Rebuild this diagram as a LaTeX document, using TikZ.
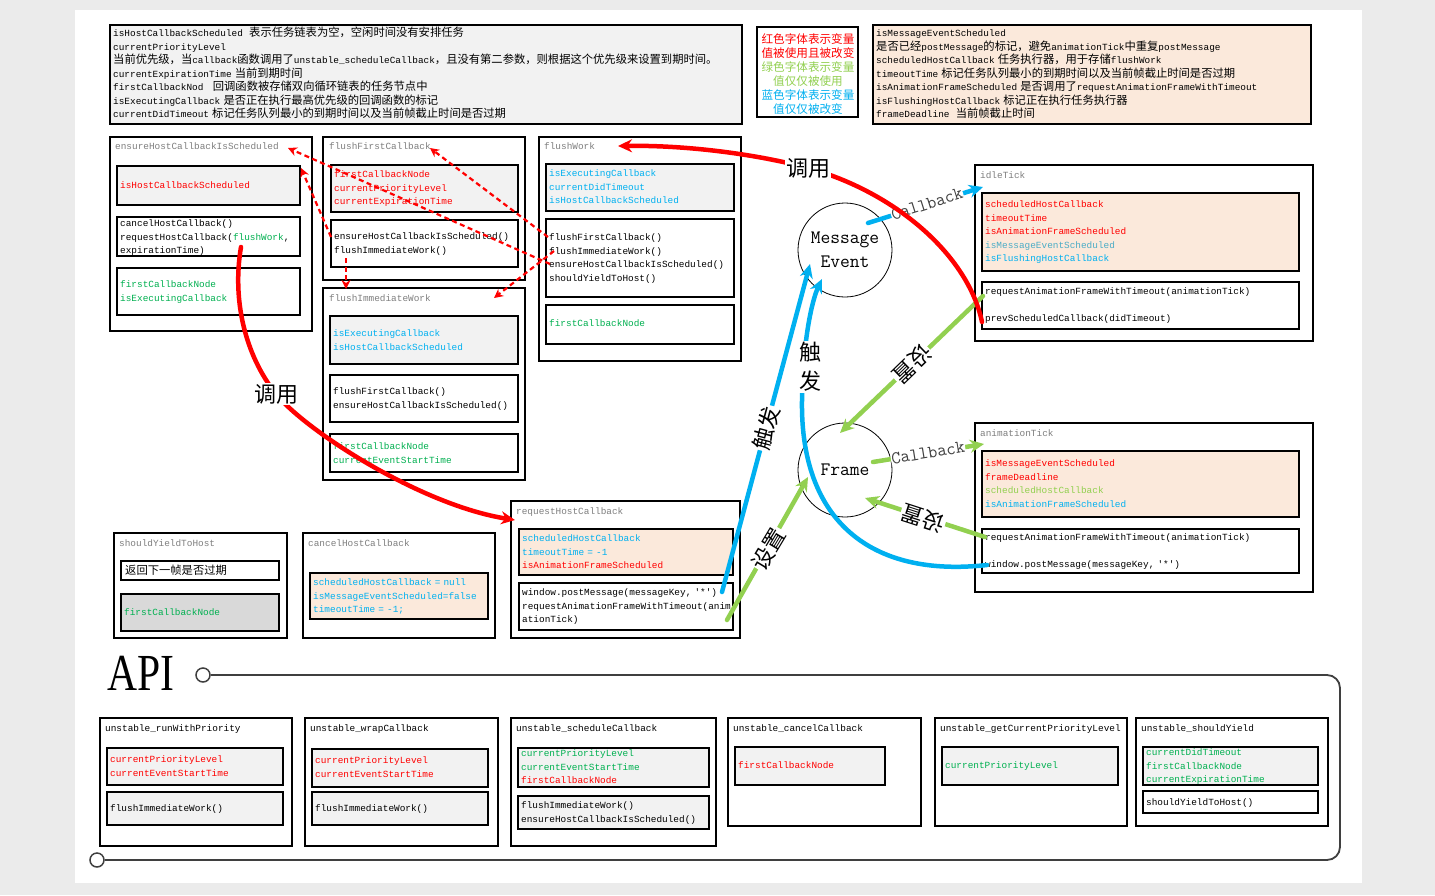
\documentclass[tikz,border=0pt]{standalone}
\usepackage{fontspec}
\setmainfont{Liberation Serif}
\newfontfamily\codefont{Liberation Mono}
\newfontfamily\zhfont{Noto Sans CJK SC}
\usetikzlibrary{arrows.meta,fit}
\definecolor{boxgrey}{HTML}{F2F2F2}
\definecolor{peach}{HTML}{FBE9DB}
\definecolor{dgrey}{HTML}{D9D9D9}
\definecolor{ttlgrey}{HTML}{7F7F7F}
\definecolor{myred}{HTML}{FF0000}
\definecolor{mygreen}{HTML}{00B050}
\definecolor{lgreen}{HTML}{92D050}
\definecolor{myblue}{HTML}{00B0F0}
\definecolor{myteal}{HTML}{4BACC6}
\definecolor{pagebg}{HTML}{EBEBEB}
\definecolor{apigrey}{HTML}{3F3F3F}
\newcommand\zh[1]{{\zhfont\fontsize{11.3}{13.5}\selectfont #1}}
\newcommand\bx[6]{\node[#2, fit={(#3,#4) (#5,#6)}] (#1) {};}
\newcommand\cR[1]{\textcolor{myred}{#1}}
\newcommand\cG[1]{\textcolor{mygreen}{#1}}
\newcommand\cLG[1]{\textcolor{lgreen}{#1}}
\newcommand\cB[1]{\textcolor{myblue}{#1}}
\newcommand\cT[1]{\textcolor{myteal}{#1}}
\begin{document}
\begin{tikzpicture}[x=1pt,y=-1pt,
  outerbox/.style={draw=black, line width=1.1pt, fill=white, inner sep=0pt, outer sep=0pt},
  gbox/.style={outerbox, fill=boxgrey},
  pbox/.style={outerbox, fill=peach},
  wbox/.style={outerbox},
  dbox/.style={outerbox, fill=dgrey},
  txt/.style={anchor=base west, inner sep=0pt, text width=640pt, align=left, font=\codefont\fontsize{9.4}{13.5}\selectfont},
  ttl/.style={txt, text=ttlgrey},
  arr/.style={line width=4.5pt, line cap=round, -{Stealth[length=14pt,width=13pt]}},
  redarr/.style={arr, draw=myred},
  bluearr/.style={arr, draw=myblue},
  greenarr/.style={arr, draw=lgreen},
  reddash/.style={draw=myred, line width=2.2pt, dash pattern=on 5pt off 3.5pt, -{Stealth[length=9pt,width=9pt]}},
  biglab/.style={font=\zhfont\fontsize{22}{29}\selectfont, fill=white, inner sep=1pt, align=center},
  cblab/.style={font=\ttfamily\fontsize{18}{18}\selectfont, text=apigrey, fill=white, inner sep=0.5pt},
  ring/.style={circle, draw=black, line width=0.8pt, fill=white, minimum size=94pt, inner sep=0pt, align=center, font=\ttfamily\fontsize{19}{24}\selectfont},
  apiline/.style={draw=apigrey, line width=1.8pt},
  apiring/.style={circle, draw=apigrey, line width=1.5pt, fill=white, minimum size=14pt, inner sep=0pt}
]
\useasboundingbox (0,0) rectangle (1435,895);
\fill[pagebg] (0,0) rectangle (1435,895);
\fill[white] (75,10) rectangle (1362,883);

% ---------- top notes ----------
\bx{topL}{gbox}{110}{25}{742}{124}
\node[txt] (topLt) at (113,36.5) {isHostCallbackScheduled~~\zh{表示任务链表为空，空闲时间没有安排任务}\\
currentPriorityLevel\\
\zh{当前优先级，当}callback\zh{函数调用了}unstable\_scheduleCallback\zh{，且没有第二参数，则根据这个优先级来设置到期时间。}\\
currentExpirationTime \zh{当前到期时间}\\
firstCallbackNod~~~\zh{回调函数被存储双向循环链表的任务节点中}\\
isExecutingCallback \zh{是否正在执行最高优先级的回调函数的标记}\\
currentDidTimeout \zh{标记任务队列最小的到期时间以及当前帧截止时间是否过期}};

\bx{legend}{wbox}{757}{27}{858}{117}
\node[font=\zhfont\fontsize{11.6}{14}\selectfont, align=center, inner sep=0pt] (legt) at (808,74)
{\cR{红色字体表示变量}\\\cR{值被使用且被改变}\\\cLG{绿色字体表示变量}\\\cLG{值仅仅被使用}\\\cB{蓝色字体表示变量}\\\cB{值仅仅被改变}};

\bx{topR}{pbox}{873}{25}{1311}{124}
\node[txt] (topRt) at (876,36.5) {isMessageEventScheduled\\
\zh{是否已经}postMessage\zh{的标记，避免}animationTick\zh{中重复}postMessage\\
scheduledHostCallback \zh{任务执行器，用于存储}flushWork\\
timeoutTime \zh{标记任务队列最小的到期时间以及当前帧截止时间是否过期}\\
isAnimationFrameScheduled \zh{是否调用了}requestAnimationFrameWithTimeout\\
isFlushingHostCallback \zh{标记正在执行任务执行器}\\
frameDeadline~~\zh{当前帧截止时间}};

% ---------- ensureHostCallbackIsScheduled ----------
\bx{ens}{outerbox}{110}{137}{312}{331}
\node[ttl] (ensT) at (115,149.5) {ensureHostCallbackIsScheduled};
\bx{ensA}{gbox}{117}{166}{300}{205}
\node[txt, text=myred] (ensAt) at (120,188.5) {isHostCallbackScheduled};
\bx{ensB}{wbox}{117}{217}{300}{256}
\node[txt] (ensBt) at (120,226.5) {cancelHostCallback()\\requestHostCallback(\cG{flushWork},\\expirationTime)};
\bx{ensC}{wbox}{117}{268}{300}{315}
\node[txt, text=mygreen] (ensCt) at (120,287.5) {firstCallbackNode\\isExecutingCallback};

% ---------- flushFirstCallback ----------
\bx{ffc}{outerbox}{323}{137}{525}{280}
\node[ttl] (ffcT) at (329,149.5) {flushFirstCallback};
\bx{ffcA}{gbox}{331}{165}{518}{212}
\node[txt, text=myred] (ffcAt) at (334,177.5) {firstCallbackNode\\currentPriorityLevel\\currentExpirationTime};
\bx{ffcB}{wbox}{331}{220}{518}{267}
\node[txt] (ffcBt) at (334,239.5) {ensureHostCallbackIsScheduled()\\flushImmediateWork()};

% ---------- flushImmediateWork ----------
\bx{fiw}{outerbox}{323}{288}{525}{480}
\node[ttl] (fiwT) at (329,301.5) {flushImmediateWork};
\bx{fiwA}{gbox}{330}{316}{518}{364}
\node[txt, text=myblue] (fiwAt) at (333,336.5) {isExecutingCallback\\isHostCallbackScheduled};
\bx{fiwB}{wbox}{330}{375}{518}{422}
\node[txt] (fiwBt) at (333,394.5) {flushFirstCallback()\\ensureHostCallbackIsScheduled()};
\bx{fiwC}{wbox}{330}{434}{518}{472}
\node[txt, text=mygreen] (fiwCt) at (333,449.5) {firstCallbackNode\\currentEventStartTime};

% ---------- flushWork ----------
\bx{fw}{outerbox}{539}{137}{741}{361}
\node[ttl] (fwT) at (544,149.5) {flushWork};
\bx{fwA}{gbox}{546}{164}{734}{211}
\node[txt, text=myblue] (fwAt) at (549,176.5) {isExecutingCallback\\currentDidTimeout\\isHostCallbackScheduled};
\bx{fwB}{wbox}{546}{219}{734}{297}
\node[txt] (fwBt) at (549,240.5) {flushFirstCallback()\\flushImmediateWork()\\ensureHostCallbackIsScheduled()\\shouldYieldToHost()};
\bx{fwC}{wbox}{546}{305}{734}{344}
\node[txt, text=mygreen] (fwCt) at (549,326.5) {firstCallbackNode};

% ---------- idleTick ----------
\bx{idle}{outerbox}{975}{165}{1313}{341}
\node[ttl] (idleT) at (980,178.5) {idleTick};
\bx{idleA}{pbox}{982}{193}{1299}{271}
\node[txt] (idleAt) at (985,207.5) {\cR{scheduledHostCallback}\\\cR{timeoutTime}\\\cR{isAnimationFrameScheduled}\\\cT{isMessageEventScheduled}\\\cB{isFlushingHostCallback}};
\bx{idleB}{wbox}{982}{282}{1299}{329}
\node[txt] (idleBt) at (985,294.5) {requestAnimationFrameWithTimeout(animationTick)\\[13.5pt]prevScheduledCallback(didTimeout)};

% ---------- animationTick ----------
\bx{anim}{outerbox}{975}{423}{1313}{592}
\node[ttl] (animT) at (980,436.5) {animationTick};
\bx{animA}{pbox}{982}{451}{1299}{517}
\node[txt] (animAt) at (985,466.5) {\cR{isMessageEventScheduled}\\\cR{frameDeadline}\\\cLG{scheduledHostCallback}\\\cB{isAnimationFrameScheduled}};
\bx{animB}{wbox}{982}{529}{1299}{573}
\node[txt] (animBt) at (985,540.5) {requestAnimationFrameWithTimeout(animationTick)\\[13.5pt]window.postMessage(messageKey, '*')};

% ---------- row 3 ----------
\bx{syth}{outerbox}{114}{533}{287}{638}
\node[ttl] (sythT) at (119,546.5) {shouldYieldToHost};
\bx{sythA}{wbox}{121}{561}{279}{580}
\node[txt] (sythAt) at (125,574.5) {\zh{返回下一帧是否过期}};
\bx{sythB}{dbox}{121}{594}{279}{631}
\node[txt, text=mygreen] (sythBt) at (124,615.5) {firstCallbackNode};

\bx{chc}{outerbox}{303}{533}{495}{638}
\node[ttl] (chcT) at (308,546.5) {cancelHostCallback};
\bx{chcA}{pbox}{310}{573}{488}{619}
\node[txt, text=myblue] (chcAt) at (313,585.5) {scheduledHostCallback = null\\isMessageEventScheduled=false\\timeoutTime = -1;};

\bx{rhc}{outerbox}{511}{501}{740}{638}
\node[ttl] (rhcT) at (516,514.5) {requestHostCallback};
\bx{rhcA}{pbox}{519}{529}{733}{575}
\node[txt] (rhcAt) at (522,541.5) {\cB{scheduledHostCallback}\\\cB{timeoutTime = -1}\\\cR{isAnimationFrameScheduled}};
\bx{rhcB}{wbox}{519}{583}{733}{630}
\node[txt] (rhcBt) at (522,595.5) {window.postMessage(messageKey, '*')\\requestAnimationFrameWithTimeout(anim\\ationTick)};

% ---------- API ----------
\node[font=\fontsize{52}{52}\selectfont, xscale=0.8, inner sep=0pt] (api) at (141,673) {API};
\node[apiring] (apiA) at (203,675) {};
\node[apiring] (apiB) at (97,860) {};
\draw[apiline, rounded corners=13pt] (apiA.east) -- (1340,675) -- (1340,860) -- (apiB.east);

\bx{rwp}{outerbox}{100}{718}{292}{846}
\node[txt] (rwpT) at (105,731.5) {unstable\_runWithPriority};
\bx{rwpA}{gbox}{107}{748}{283}{785}
\node[txt, text=myred] (rwpAt) at (110,762.5) {currentPriorityLevel\\currentEventStartTime};
\bx{rwpB}{gbox}{107}{792}{283}{825}
\node[txt] (rwpBt) at (110,811.5) {flushImmediateWork()};

\bx{wc}{outerbox}{305}{718}{498}{846}
\node[txt] (wcT) at (310,731.5) {unstable\_wrapCallback};
\bx{wcA}{gbox}{312}{749}{488}{787}
\node[txt, text=myred] (wcAt) at (315,763.5) {currentPriorityLevel\\currentEventStartTime};
\bx{wcB}{gbox}{312}{792}{488}{825}
\node[txt] (wcBt) at (315,811.5) {flushImmediateWork()};

\bx{sc}{outerbox}{511}{718}{716}{846}
\node[txt] (scT) at (516,731.5) {unstable\_scheduleCallback};
\bx{scA}{gbox}{518}{748}{709}{787}
\node[txt] (scAt) at (521,756.5) {\cG{currentPriorityLevel}\\\cG{currentEventStartTime}\\\cR{firstCallbackNode}};
\bx{scB}{gbox}{518}{796}{709}{829}
\node[txt] (scBt) at (521,808.5) {flushImmediateWork()\\ensureHostCallbackIsScheduled()};

\bx{cc}{outerbox}{728}{718}{921}{826}
\node[txt] (ccT) at (733,731.5) {unstable\_cancelCallback};
\bx{ccA}{gbox}{735}{747}{885}{785}
\node[txt, text=myred] (ccAt) at (738,768.5) {firstCallbackNode};

\bx{gcpl}{outerbox}{935}{718}{1127}{826}
\node[txt] (gcplT) at (940,731.5) {unstable\_getCurrentPriorityLevel};
\bx{gcplA}{gbox}{942}{747}{1118}{785}
\node[txt, text=mygreen] (gcplAt) at (945,768.5) {currentPriorityLevel};

\bx{sy}{outerbox}{1136}{718}{1328}{826}
\node[txt] (syT) at (1141,731.5) {unstable\_shouldYield};
\bx{syA}{gbox}{1143}{747}{1318}{785}
\node[txt, text=mygreen] (syAt) at (1146,755.5) {currentDidTimeout\\firstCallbackNode\\currentExpirationTime};
\bx{syB}{wbox}{1143}{791}{1318}{813}
\node[txt] (syBt) at (1146,805.5) {shouldYieldToHost()};

% ---------- circles ----------
\node[ring] (msg) at (845,250) {Message\\Event};
\node[ring] (frame) at (845,470) {Frame};

% ---------- connector end points ----------
\coordinate (d1s) at (548,237); \coordinate (d1e) at (430,148);
\coordinate (d2s) at (550,264); \coordinate (d2e) at (288,148);
\coordinate (d3s) at (554,251); \coordinate (d3e) at (494,298);
\coordinate (d4s) at (331,237); \coordinate (d4e) at (301,168);
\coordinate (d5s) at (346,258); \coordinate (d5e) at (346,289);
\coordinate (r1s) at (241,247); \coordinate (r1m) at (276,394); \coordinate (r1e) at (515,520);
\coordinate (r2s) at (982,322); \coordinate (r2m) at (808,168); \coordinate (r2e) at (618,146);
\coordinate (b1s) at (722,592); \coordinate (b1e) at (810,264);
\coordinate (b2s) at (987,565); \coordinate (b2m) at (802,400); \coordinate (b2e) at (822,279);
\coordinate (b3s) at (868,223); \coordinate (b3e) at (983,187);
\coordinate (g1s) at (983,296); \coordinate (g1e) at (840,433);
\coordinate (g2s) at (727,620); \coordinate (g2e) at (808,477);
\coordinate (g3s) at (873,462); \coordinate (g3e) at (984,444);
\coordinate (g4s) at (985,537); \coordinate (g4e) at (865,498);

% ---------- dashed red ----------
\draw[reddash] (d1s) -- (d1e);
\draw[reddash] (d2s) -- (d2e);
\draw[reddash] (d3s) -- (d3e);
\draw[reddash] (d4s) -- (d4e);
\draw[reddash] (d5s) -- (d5e);

% ---------- blue ----------
\draw[bluearr] (b1s) -- (b1e);
\draw[bluearr] (b2s) .. controls (870,578) and (800,520) .. (b2m) .. controls (803,340) and (812,300) .. (b2e);
\draw[bluearr] (b3s) -- (b3e);
\node[biglab, rotate=75] (lb1) at (766,428) {触发};
\node[biglab] (lb2) at (810,367) {触\\发};
\node[cblab, rotate=17.5] (lb3) at (927,204) {Callback};

% ---------- green ----------
\draw[greenarr] (g1s) -- (g1e);
\draw[greenarr] (g2s) -- (g2e);
\draw[greenarr] (g3s) -- (g3e);
\draw[greenarr] (g4s) -- (g4e);
\node[biglab, rotate=224] (lg1) at (912,364) {设置};
\node[biglab, rotate=59] (lg2) at (769,549) {设置};
\node[cblab, rotate=9.2] (lg3) at (928,453) {Callback};
\node[biglab, rotate=162] (lg4) at (923,518) {设置};

% ---------- red calls ----------
\draw[redarr] (r1s) .. controls (232,300) and (245,355) .. (r1m) .. controls (305,430) and (420,505) .. (r1e);
\draw[redarr] (r2s) .. controls (968,255) and (895,192) .. (r2m) .. controls (760,155) and (690,145) .. (r2e);
\node[biglab] (lr1) at (r1m) {调用};
\node[biglab] (lr2) at (r2m) {调用};
\end{tikzpicture}
\end{document}
